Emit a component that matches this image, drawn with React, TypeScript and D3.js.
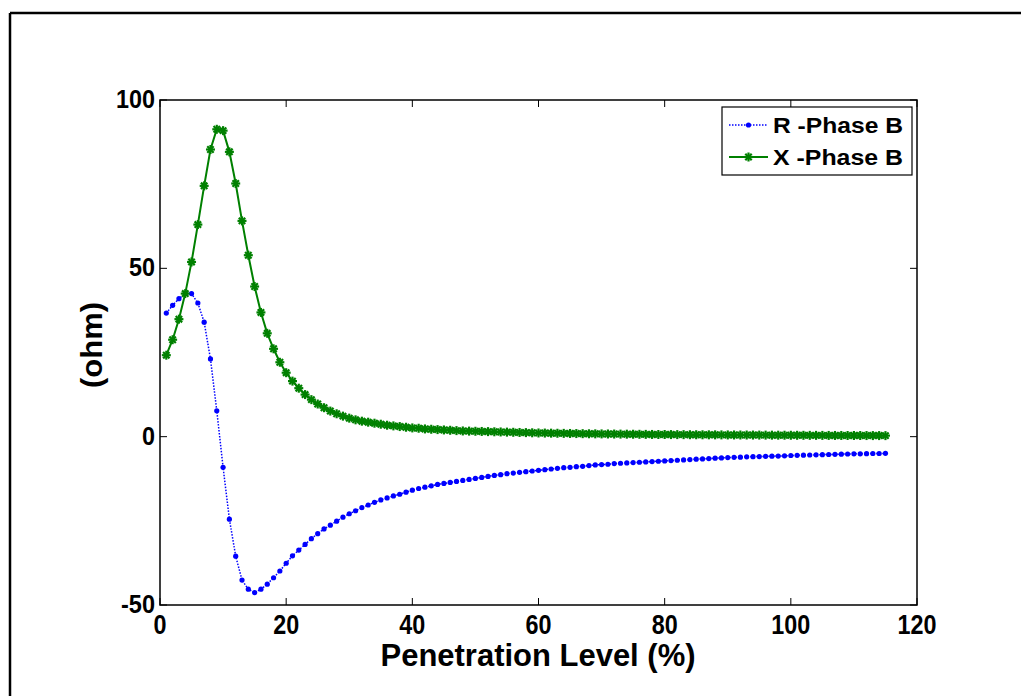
import React from "react";
import * as d3 from "d3";

const penetration: number[] = Array.from({ length: 115 }, (_, i) => i + 1);

const rPhaseB: number[] = [
  36.7, 39.0, 41.0, 42.5, 42.5, 39.7, 34.0, 23.1, 7.7, -9.1,
  -24.5, -35.5, -42.6, -45.3, -46.3, -45.3, -43.8, -41.9, -39.9, -37.6,
  -35.4, -33.7, -32.0, -30.3, -28.8, -27.4, -26.3, -25.1, -23.9, -22.9,
  -22.0, -21.1, -20.3, -19.5, -18.8, -18.2, -17.6, -17.1, -16.5, -15.9,
  -15.4, -15.0, -14.6, -14.2, -13.9, -13.6, -13.3, -13.0, -12.7, -12.4,
  -12.1, -11.8, -11.5, -11.3, -11.0, -10.8, -10.6, -10.4, -10.2, -10.0,
  -9.8, -9.6, -9.4, -9.2, -9.1, -8.9, -8.8, -8.6, -8.4, -8.3,
  -8.2, -8.0, -7.9, -7.8, -7.7, -7.6, -7.5, -7.4, -7.3, -7.2,
  -7.1, -7.0, -6.9, -6.8, -6.7, -6.6, -6.5, -6.4, -6.3, -6.2,
  -6.15, -6.1, -6.0, -5.95, -5.9, -5.85, -5.8, -5.75, -5.7, -5.6,
  -5.55, -5.5, -5.45, -5.4, -5.35, -5.3, -5.25, -5.2, -5.15, -5.1,
  -5.1, -5.05, -5.0, -5.0, -4.95,
];

const xPhaseB: number[] = [
  24.2, 28.8, 34.9, 42.5, 51.9, 63.0, 74.5, 85.3, 91.3, 90.9,
  84.6, 75.2, 64.1, 53.9, 44.6, 36.9, 30.7, 26.1, 22.1, 19.0,
  16.5, 14.4, 12.5, 11.0, 9.7, 8.6, 7.6, 6.8, 6.1, 5.5,
  5.0, 4.6, 4.3, 4.0, 3.7, 3.4, 3.2, 3.0, 2.8, 2.6,
  2.5, 2.3, 2.2, 2.1, 2.0, 1.9, 1.8, 1.7, 1.65, 1.6,
  1.55, 1.5, 1.45, 1.4, 1.35, 1.3, 1.25, 1.2, 1.15, 1.1,
  1.07, 1.04, 1.01, 0.98, 0.95, 0.92, 0.89, 0.86, 0.84, 0.82,
  0.8, 0.78, 0.76, 0.74, 0.72, 0.7, 0.68, 0.66, 0.65, 0.64,
  0.62, 0.61, 0.6, 0.58, 0.57, 0.56, 0.55, 0.54, 0.53, 0.52,
  0.51, 0.5, 0.49, 0.48, 0.47, 0.46, 0.45, 0.44, 0.43, 0.42,
  0.41, 0.4, 0.39, 0.39, 0.38, 0.37, 0.36, 0.36, 0.35, 0.34,
  0.34, 0.33, 0.32, 0.32, 0.31,
];

const xTicks: number[] = [0, 20, 40, 60, 80, 100, 120];
const yTicks: number[] = [-50, 0, 50, 100];
const legendLabels: string[] = ["R -Phase B", "X -Phase B"];
const xLabel = "Penetration Level (%)";
const yLabel = "(ohm)";

const W = 1021;
const H = 696;
const L = 160, R = 917, T = 100, B = 605;
const FONT = "'Liberation Sans', Arial, Helvetica, sans-serif";
const BLUE = "#0000ff";
const GREEN = "#008000";

function labelWidth(s: string): number {
  let w = 0;
  for (const c of s) w += c === "-" ? 8 : 13;
  return w;
}

function Star({ x, y }: { x: number; y: number }) {
  const s = 4.5;
  const d = 3.2;
  return (
    <g stroke={GREEN} strokeWidth={2.2} strokeLinecap="butt">
      <line x1={x - s} y1={y} x2={x + s} y2={y} />
      <line x1={x} y1={y - s} x2={x} y2={y + s} />
      <line x1={x - d} y1={y - d} x2={x + d} y2={y + d} />
      <line x1={x - d} y1={y + d} x2={x + d} y2={y - d} />
    </g>
  );
}

export default function App() {
  const xs = d3.scaleLinear().domain([0, 120]).range([L, R]);
  const ys = d3.scaleLinear().domain([-50, 100]).range([B, T]);

  const rPts: [number, number][] = penetration.map((p, i) => [xs(p), ys(rPhaseB[i])]);
  const xPts: [number, number][] = penetration.map((p, i) => [xs(p), ys(xPhaseB[i])]);
  const line = d3.line<[number, number]>().x((d) => d[0]).y((d) => d[1]);

  const tk = 7;
  return (
    <svg
      width={W}
      height={H}
      viewBox={`0 0 ${W} ${H}`}
      style={{ position: "absolute", left: 0, top: 0, background: "#fff" }}
    >
      <rect x={0} y={0} width={W} height={H} fill="#fff" />
      {/* outer frame */}
      <line x1={10} y1={13} x2={W} y2={13} stroke="#000" strokeWidth={2.5} />
      <line x1={10} y1={13} x2={10} y2={H} stroke="#000" strokeWidth={2.5} />

      {/* data */}
      <path d={line(rPts) || ""} fill="none" stroke={BLUE} strokeWidth={1.5} strokeDasharray="1.5,1.5" />
      {rPts.map((p, i) => (
        <circle key={"r" + i} cx={p[0]} cy={p[1]} r={2.6} fill={BLUE} />
      ))}
      <path d={line(xPts) || ""} fill="none" stroke={GREEN} strokeWidth={2} />
      {xPts.map((p, i) => (
        <Star key={"x" + i} x={p[0]} y={p[1]} />
      ))}

      {/* axes box */}
      <rect x={L} y={T} width={R - L} height={B - T} fill="none" stroke="#000" strokeWidth={1.5} />
      {xTicks.map((t) => (
        <g key={"xt" + t}>
          <line x1={xs(t)} y1={B} x2={xs(t)} y2={B - tk} stroke="#000" strokeWidth={1} />
          <line x1={xs(t)} y1={T} x2={xs(t)} y2={T + tk} stroke="#000" strokeWidth={1} />
          <text
            x={xs(t)}
            y={634}
            textAnchor="middle"
            fontFamily={FONT}
            fontWeight="bold"
            fontSize={27}
            textLength={labelWidth(String(t))}
            lengthAdjust="spacingAndGlyphs"
            fill="#000"
          >
            {t}
          </text>
        </g>
      ))}
      {yTicks.map((t) => (
        <g key={"yt" + t}>
          <line x1={L} y1={ys(t)} x2={L + tk} y2={ys(t)} stroke="#000" strokeWidth={1} />
          <line x1={R} y1={ys(t)} x2={R - tk} y2={ys(t)} stroke="#000" strokeWidth={1} />
          <text
            x={155 - labelWidth(String(t))}
            y={ys(t) + 8}
            textAnchor="start"
            fontFamily={FONT}
            fontWeight="bold"
            fontSize={26}
            textLength={labelWidth(String(t))}
            lengthAdjust="spacingAndGlyphs"
            fill="#000"
          >
            {t}
          </text>
        </g>
      ))}

      {/* axis labels */}
      <text
        x={538}
        y={666}
        textAnchor="middle"
        fontFamily={FONT}
        fontWeight="bold"
        fontSize={31}
        textLength={315}
        lengthAdjust="spacingAndGlyphs"
        fill="#000"
      >
        {xLabel}
      </text>
      <text
        transform="translate(102,345) rotate(-90)"
        textAnchor="middle"
        fontFamily={FONT}
        fontWeight="bold"
        fontSize={30}
        textLength={86}
        lengthAdjust="spacingAndGlyphs"
        fill="#000"
      >
        {yLabel}
      </text>

      {/* legend */}
      <rect x={722} y={107} width={190} height={68} fill="#fff" stroke="#000" strokeWidth={1.2} />
      <line x1={729} y1={125} x2={768} y2={125} stroke={BLUE} strokeWidth={1.5} strokeDasharray="1.5,1.5" />
      <circle cx={748.5} cy={125} r={2.6} fill={BLUE} />
      <text x={773} y={133} fontFamily={FONT} fontWeight="bold" fontSize={22} textLength={130} lengthAdjust="spacingAndGlyphs" fill="#000">
        {legendLabels[0]}
      </text>
      <line x1={729} y1={157} x2={768} y2={157} stroke={GREEN} strokeWidth={2} />
      <Star x={748.5} y={157} />
      <text x={773} y={165} fontFamily={FONT} fontWeight="bold" fontSize={22} textLength={130} lengthAdjust="spacingAndGlyphs" fill="#000">
        {legendLabels[1]}
      </text>
    </svg>
  );
}
